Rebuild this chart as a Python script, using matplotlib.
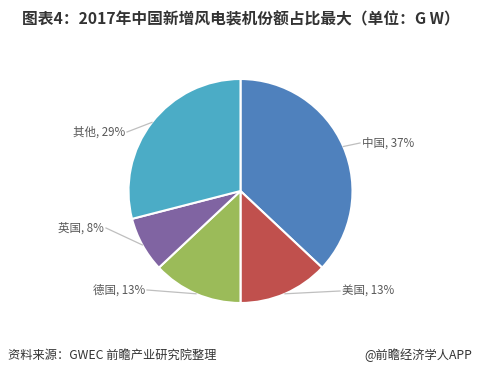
import numpy as np
import matplotlib
matplotlib.use("Agg")
import matplotlib.pyplot as plt

plt.rcParams['font.family'] = ['Noto Sans CJK SC', 'DejaVu Sans']

# 数据
countries = ['中国', '美国', '德国', '英国', '其他']
shares = [37, 13, 13, 8, 29]
colors = ['#4F81BD', '#C0504D', '#9BBB59', '#8064A2', '#4BACC6']

# Beschriftungs-Endpunkte (Pixel, y nach unten)
label_pos = [(360, 143), (340, 291), (147, 290), (106, 228), (127, 132)]

W, H = 481, 373
fig = plt.figure(figsize=(W / 100, H / 100), dpi=100)
ax = fig.add_axes([0, 0, 1, 1])

cx, cy, r = 240.5, H - 191, 112
wedges, _ = ax.pie(shares, colors=colors, startangle=90, counterclock=False,
                   center=(cx, cy), radius=r,
                   wedgeprops=dict(edgecolor='white', linewidth=1.5))

# pie() setzt eigene Grenzen -> danach überschreiben
ax.set_xlim(0, W)
ax.set_ylim(0, H)
ax.set_aspect('equal')
ax.axis('off')

total = sum(shares)
cum = 0
for name, val, (lx, ly) in zip(countries, shares, label_pos):
    mid = (cum + val / 2) / total * 2 * np.pi
    cum += val
    sx = cx + r * np.sin(mid)
    sy = cy + r * np.cos(mid)
    ey = H - ly
    ax.plot([sx, lx], [sy, ey], color='#BFBFBF', lw=0.9)
    if lx > cx:
        ax.text(lx + 2, ey, f'{name}, {val}%', ha='left', va='center',
                fontsize=8.3, color='#595959')
    else:
        ax.text(lx - 2, ey, f'{name}, {val}%', ha='right', va='center',
                fontsize=8.3, color='#595959')

fig.text(0.5, 1 - 19 / H, '图表4：2017年中国新增风电装机份额占比最大（单位：G W）',
         ha='center', va='center', fontsize=11.3, fontweight='bold', color='#333333')
fig.text(8 / W, 1 - 355 / H, '资料来源：GWEC 前瞻产业研究院整理', ha='left', va='center',
         fontsize=8.8, style='italic', color='#333333')
fig.text(472 / W, 1 - 355 / H, '@前瞻经济学人APP', ha='right', va='center',
         fontsize=8.8, color='#333333')

fig.savefig('out.png', dpi=100)
